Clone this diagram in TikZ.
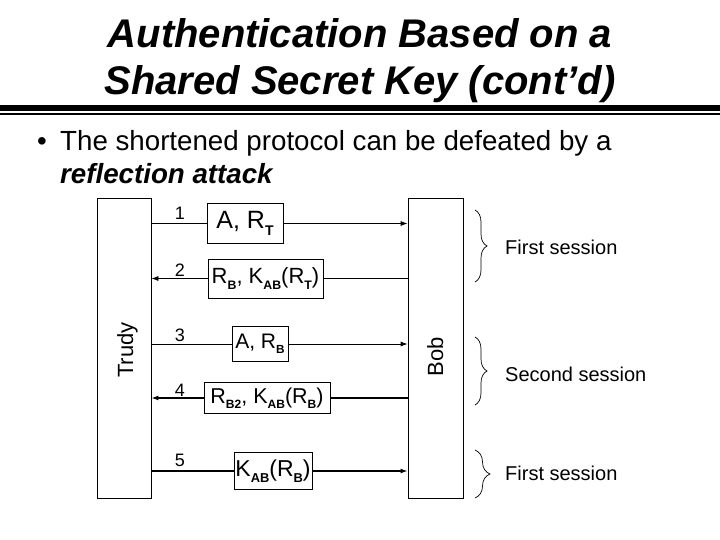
\documentclass[tikz,border=0pt]{standalone}
\usepackage{fontspec}
\setmainfont{Liberation Sans}
\usetikzlibrary{arrows.meta,decorations.pathreplacing}
\makeatletter
\newcommand\subx[1]{\raisebox{-0.25em}{\fontsize{\fpeval{0.56*\f@size}}{1}\selectfont\bfseries #1}}
\makeatother
\begin{document}
\begin{tikzpicture}[x=1pt,y=-1pt,
  titlefont/.style={font=\fontsize{40}{48}\selectfont\bfseries\itshape, inner sep=0pt, anchor=base},
  bodyfont/.style={font=\fontsize{27.7}{32}\selectfont, inner sep=0pt, anchor=base west},
  party/.style={draw, line width=0.8pt, minimum height=300pt, inner sep=0pt},
  partyname/.style={font=\fontsize{22}{22}\selectfont, rotate=90, anchor=base, inner sep=0pt},
  msgbox/.style={draw, fill=white, line width=0.8pt, inner sep=0pt, font=\fontsize{#1}{#1}\selectfont},
  msgbox/.default=22,
  msg/.style={line width=0.8pt, -{Latex[length=7pt,width=5pt]}},
  msgthick/.style={msg, line width=1.8pt},
  num/.style={font=\fontsize{18}{18}\selectfont, inner sep=0pt},
  sess/.style={font=\fontsize{20}{20}\selectfont, anchor=west, inner sep=0pt},
  brc/.style={decorate, decoration={brace, amplitude=#1}, line width=0.7pt},
  brc/.default=12pt]
\useasboundingbox (0,0) rectangle (720,540);
\fill[white] (0,0) rectangle (720,540);

% title
\node[titlefont] (title1) at (360,48) {Authentication Based on a};
\node[titlefont] (title2) at (360,95) {Shared Secret Key (cont’d)};
\draw[line width=6pt] (0,108) -- (720,108);
\draw[line width=2pt] (0,114) -- (720,114);

% bullet
\node[bodyfont] (bullet) at (37,151) {•};
\node[bodyfont] (line1) at (60,151) {The shortened protocol can be defeated by a};
\node[bodyfont] (line2) at (60,184) {\bfseries\itshape reflection attack};

% parties
\node[party, minimum width=54pt] (trudy) at (124,348) {};
\node[party, minimum width=55pt] (bob) at (435.5,348) {};
\node[partyname] (trudyname) at (133,350) {Trudy};
\node[partyname] (bobname) at (443,357) {Bob};

% messages
\node[msgbox=25, minimum width=76pt, minimum height=40pt] (m1) at (245,223.5) {A, R\subx{T}};
\node[msgbox=22, minimum width=115pt, minimum height=39pt] (m2) at (265.5,278.5) {R\subx{B}, K\subx{AB}(R\subx{T})};
\node[msgbox=21, minimum width=56pt, minimum height=35pt] (m3) at (260,344) {A, R\subx{B}};
\node[msgbox=21.5, minimum width=126pt, minimum height=31pt] (m4) at (267,398) {R\subx{B2}, K\subx{AB}(R\subx{B})};
\node[msgbox=23, minimum width=78pt, minimum height=37pt] (m5) at (273,471) {K\subx{AB}(R\subx{B})};

\draw[line width=0.8pt] (trudy.east |- m1) -- (m1.west);
\draw[msg] (m1.east) -- (bob.west |- m1);
\draw[line width=0.8pt] (bob.west |- m2) -- (m2.east);
\draw[msg] (m2.west) -- (trudy.east |- m2);
\draw[line width=0.8pt] (trudy.east |- m3) -- (m3.west);
\draw[msg] (m3.east) -- (bob.west |- m3);
\draw[line width=1.8pt] (bob.west |- m4) -- (m4.east);
\draw[msgthick] (m4.west) -- (trudy.east |- m4);
\draw[line width=1.8pt] (trudy.east |- m5) -- (m5.west);
\draw[msgthick] (m5.east) -- (bob.west |- m5);

% numbers
\node[num] (n1) at (180,213) {1};
\node[num] (n2) at (180,270) {2};
\node[num] (n3) at (180,335) {3};
\node[num] (n4) at (180,390) {4};
\node[num] (n5) at (180,460) {5};

% braces
\coordinate (b1t) at (475,210);
\coordinate (b1b) at (475,282);
\coordinate (b2t) at (475,337);
\coordinate (b2b) at (475,405);
\coordinate (b3t) at (475,450);
\coordinate (b3b) at (475,498);
\draw[brc] (b1t) -- (b1b);
\draw[brc] (b2t) -- (b2b);
\draw[brc=15pt] (b3t) -- (b3b);
\node[sess] (s1) at (505,247) {First session};
\node[sess] (s2) at (505,374) {Second session};
\node[sess] (s3) at (505,473) {First session};
\end{tikzpicture}
\end{document}
